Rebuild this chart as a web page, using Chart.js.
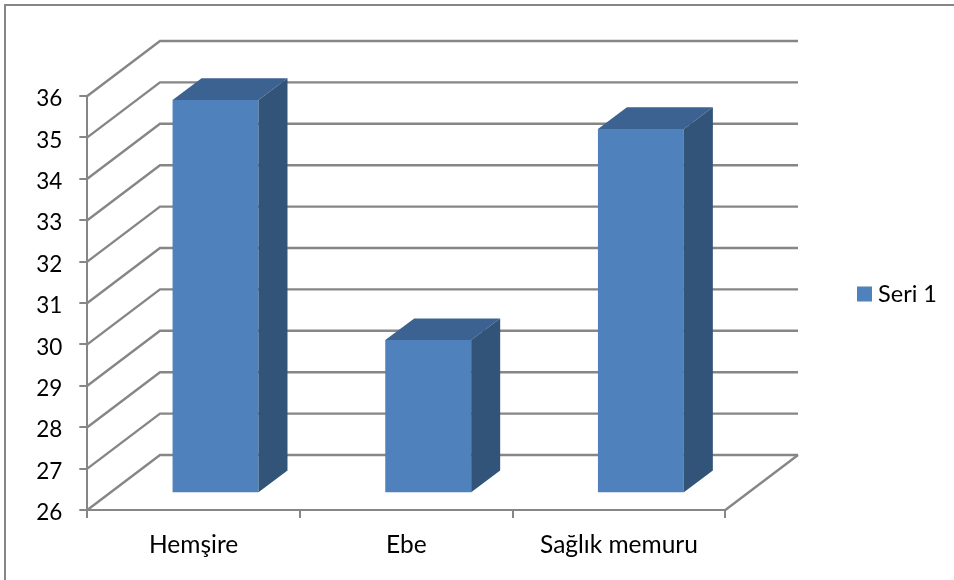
<!DOCTYPE html>
<html>
<head>
<meta charset="utf-8">
<style>
    html, body { margin: 0; padding: 0; background: #fff; overflow: hidden; }
    #wrap { position: absolute; left: 0; top: 0; width: 954px; height: 580px; }
    #frame { position: absolute; left: 4px; top: 4px; right: 0; bottom: 0; box-sizing: border-box; border-left: 2px solid #868686; border-top: 2px solid #868686; }
</style>
<script src="https://cdn.jsdelivr.net/npm/chart.js@4/dist/chart.umd.min.js"></script>
</head>
<body>
<div id="wrap">
    <canvas id="chart" width="954" height="580"></canvas>
    <div id="frame"></div>
</div>
<script>
    const categories = ['Hemşire', 'Ebe', 'Sağlık memuru'];
    const seriesName = 'Seri 1';
    const seriesValues = [35.5, 29.7, 34.8];
    const yMin = 26;
    const yMax = 36;

    const GRID_COLOR = '#868686';
    const FRONT_COLOR = '#4F81BD';
    const TOP_COLOR = '#3B6290';
    const SIDE_COLOR = '#325479';

    // depth of the floor and of a single bar, in pixels
    const WALL_DX = 72.7, WALL_DY = 55;
    const BAR_SHIFT_X = 21.9, BAR_SHIFT_Y = 16.7;
    const BAR_DX = 29, BAR_DY = 21.7;

    // Back wall, side wall and floor lines, one per tick of the value axis
    const wallPlugin = {
        id: 'wall',
        beforeDatasetsDraw(chart) {
            const { ctx, scales: { x, y } } = chart;
            ctx.save();
            ctx.strokeStyle = GRID_COLOR;
            ctx.lineWidth = 2.4;
            y.ticks.forEach(t => {
                const py = y.getPixelForValue(t.value);
                ctx.beginPath();
                ctx.moveTo(x.left, py);
                ctx.lineTo(x.left + WALL_DX, py - WALL_DY);
                ctx.lineTo(x.right + WALL_DX, py - WALL_DY);
                ctx.stroke();
            });
            ctx.beginPath();
            ctx.moveTo(x.right, y.bottom);
            ctx.lineTo(x.right + WALL_DX, y.bottom - WALL_DY);
            ctx.stroke();
            ctx.restore();
        }
    };

    // Moves the bars back onto the floor and adds their top and side faces
    const bar3dPlugin = {
        id: 'bar3d',
        beforeDatasetDraw(chart) {
            chart.ctx.save();
            chart.ctx.translate(BAR_SHIFT_X, -BAR_SHIFT_Y);
        },
        afterDatasetDraw(chart, args) {
            const { ctx } = chart;
            args.meta.data.forEach(bar => {
                const left = bar.x - bar.width / 2;
                const right = bar.x + bar.width / 2;
                ctx.fillStyle = TOP_COLOR;
                ctx.beginPath();
                ctx.moveTo(left, bar.y);
                ctx.lineTo(left + BAR_DX, bar.y - BAR_DY);
                ctx.lineTo(right + BAR_DX, bar.y - BAR_DY);
                ctx.lineTo(right, bar.y);
                ctx.closePath();
                ctx.fill();
                ctx.fillStyle = SIDE_COLOR;
                ctx.beginPath();
                ctx.moveTo(right, bar.y);
                ctx.lineTo(right + BAR_DX, bar.y - BAR_DY);
                ctx.lineTo(right + BAR_DX, bar.base - BAR_DY);
                ctx.lineTo(right, bar.base);
                ctx.closePath();
                ctx.fill();
            });
            ctx.restore();
        }
    };

    // Legend sits a bit above the middle of the plot, text right-aligned to its edge
    const legendPlacePlugin = {
        id: 'legendPlace',
        afterLayout(chart) {
            const legend = chart.legend;
            legend.left = 847;
            legend.right = 937;
            legend.top = 97;
            legend.bottom = 491;
        }
    };

    new Chart(document.getElementById('chart'), {
        type: 'bar',
        data: {
            labels: categories,
            datasets: [{
                label: seriesName,
                data: seriesValues,
                base: yMin,
                backgroundColor: FRONT_COLOR,
                borderWidth: 0,
                barPercentage: 0.404,
                categoryPercentage: 1
            }]
        },
        options: {
            responsive: false,
            animation: false,
            layout: { padding: { top: 96, right: 123, left: 0, bottom: 0 } },
            plugins: {
                tooltip: { enabled: false },
                legend: {
                    position: 'right',
                    labels: {
                        boxWidth: 15,
                        boxHeight: 15,
                        padding: 10,
                        textAlign: 'right',
                        color: '#000',
                        font: { family: 'Lato', size: 23.5 }
                    }
                }
            },
            scales: {
                x: {
                    afterFit(axis) { axis.height = 70; },
                    grid: { drawOnChartArea: false, color: GRID_COLOR, lineWidth: 2, tickLength: 8 },
                    border: { color: GRID_COLOR, width: 2 },
                    ticks: { color: '#000', font: { family: 'Lato', size: 24.5 }, padding: 12, maxRotation: 0 }
                },
                y: {
                    min: yMin,
                    max: yMax,
                    afterFit(axis) { axis.width = 87.3; },
                    grid: { drawOnChartArea: false, color: GRID_COLOR, lineWidth: 2, tickLength: 8 },
                    border: { color: GRID_COLOR, width: 2 },
                    ticks: { stepSize: 1, color: '#000', font: { family: 'Lato', size: 22.5 }, padding: 17, labelOffset: 3 }
                }
            }
        },
        plugins: [wallPlugin, bar3dPlugin, legendPlacePlugin]
    });
</script>
</body>
</html>
